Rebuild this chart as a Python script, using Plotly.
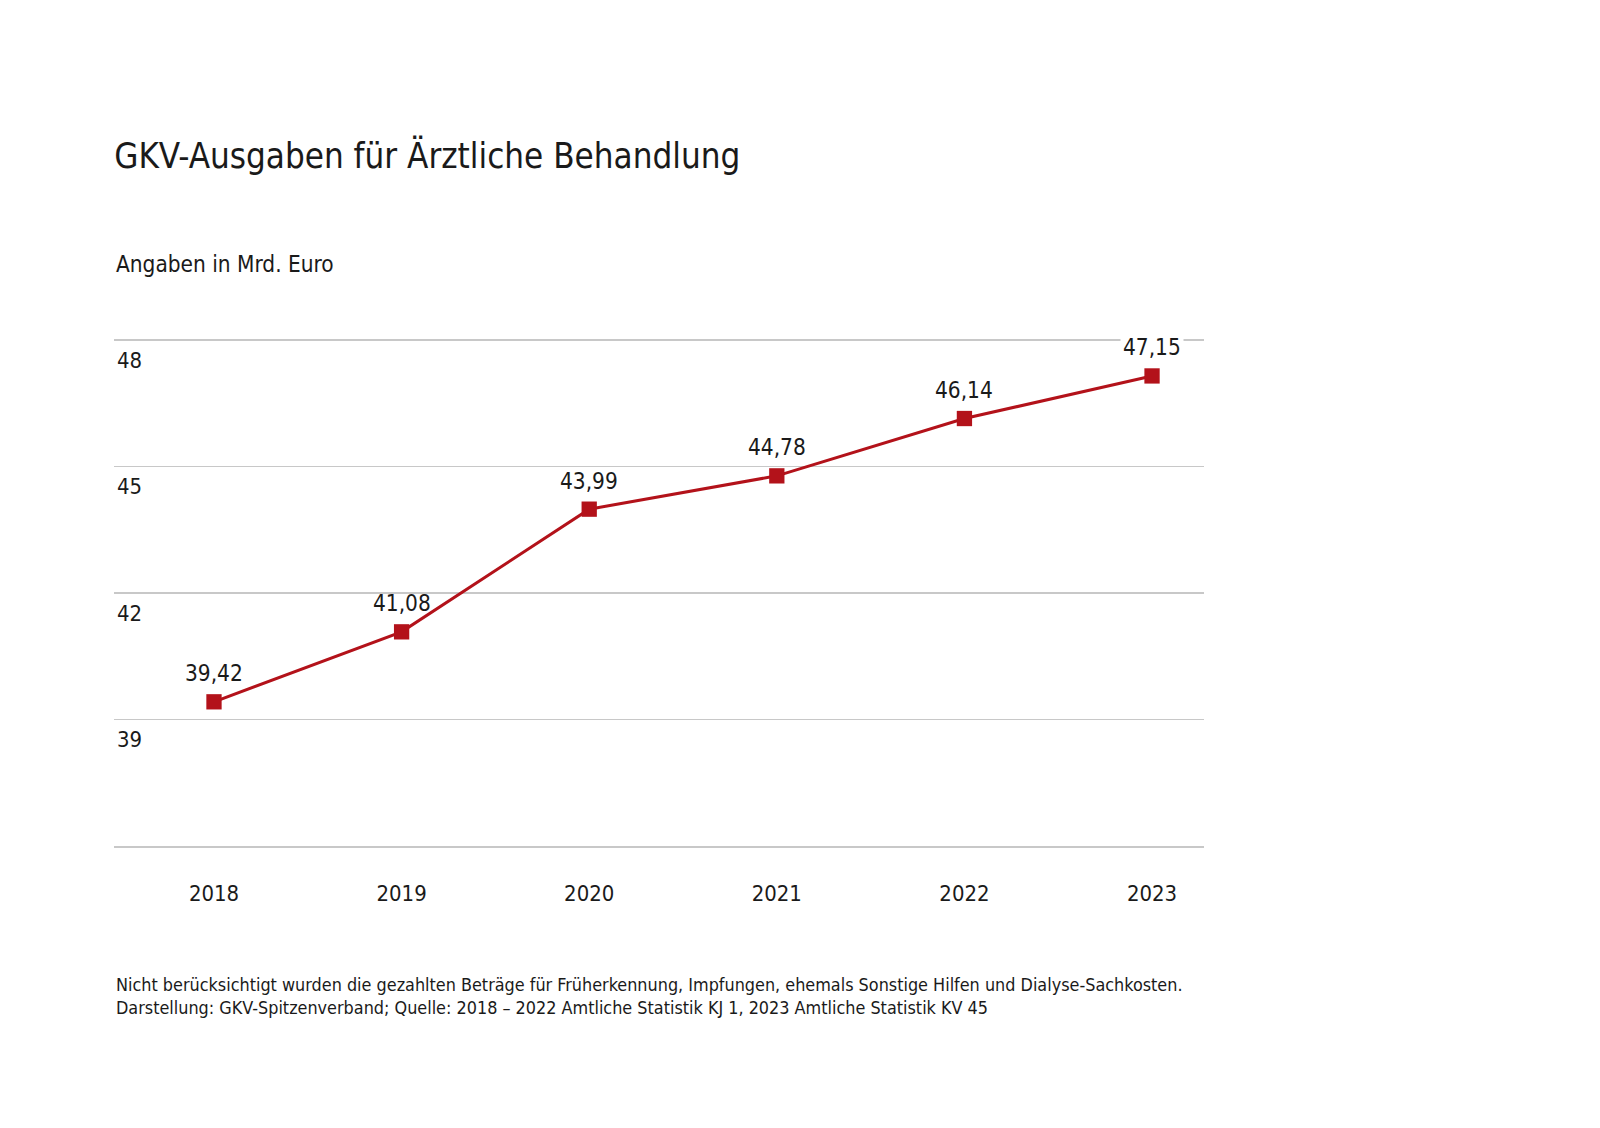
import plotly.graph_objects as go

years = [2018, 2019, 2020, 2021, 2022, 2023]
values = [39.42, 41.08, 43.99, 44.78, 46.14, 47.15]
labels = ["39,42", "41,08", "43,99", "44,78", "46,14", "47,15"]
y_ticks = [39, 42, 45, 48]
y_tick_text = ["39", "42", "45", "48"]

FONT = "DejaVu Sans Condensed, DejaVu Sans, sans-serif"
RED = "#b3121a"
TXT = "#1a1a1a"

# the captured page is about 2% larger than 1600x1128, so scale everything
K = 1.02
W, HT = round(1600 * K), round(1128 * K)


def s(v):
    return v * K


# plot area in reference pixels
L, R, T, B = 112, 1180, 331, 829
H = B - T
Y0, Y1 = 36, 48.05
LABEL_SHIFT = 28  # px above marker


def py(px):
    return (B - px) / H


fig = go.Figure()
fig.add_trace(go.Scatter(
    x=years, y=values, mode="lines+markers",
    line=dict(color=RED, width=s(3)),
    marker=dict(symbol="square", size=s(15), color=RED),
    hoverinfo="skip", showlegend=False,
))

units_per_px = (Y1 - Y0) / H
annotations = []
for x, v, t in zip(years, values, labels):
    centre = v + LABEL_SHIFT * units_per_px
    near_grid = min(abs(centre - g) for g in y_ticks) < 8 * units_per_px
    annotations.append(dict(
        x=x, y=v, xref="x", yref="y", text=t, showarrow=False,
        yshift=s(LABEL_SHIFT), bgcolor="white" if near_grid else "rgba(0,0,0,0)",
        borderpad=2,
        font=dict(family=FONT, size=s(22), color=TXT),
    ))

annotations += [
    dict(x=0, y=py(258), xref="paper", yref="paper",
         xanchor="left", yanchor="middle", showarrow=False,
         text="Angaben in Mrd. Euro",
         font=dict(family=FONT, size=s(22), color=TXT)),
    dict(x=0, y=py(976), xref="paper", yref="paper",
         xanchor="left", yanchor="middle", showarrow=False, align="left",
         text="Nicht berücksichtigt wurden die gezahlten Beträge für Früherkennung, Impfungen, ehemals Sonstige Hilfen und Dialyse-Sachkosten.<br>"
              "Darstellung: GKV-Spitzenverband; Quelle: 2018 – 2022 Amtliche Statistik KJ 1, 2023 Amtliche Statistik KV 45",
         font=dict(family=FONT, size=s(17.5), color=TXT)),
]

fig.update_layout(
    width=W, height=HT,
    margin=dict(l=s(L), r=s(1600 - R), t=s(T), b=s(1128 - B)),
    paper_bgcolor="white", plot_bgcolor="white",
    font=dict(family=FONT, color=TXT),
    title=dict(
        text="GKV-Ausgaben für Ärztliche Behandlung",
        x=L / 1600, xanchor="left", xref="container",
        y=1 - 153 / 1128, yanchor="middle", yref="container",
        font=dict(family=FONT, size=s(34), color=TXT),
    ),
    xaxis=dict(
        range=[2017.467, 2023.277],
        tickvals=years, ticktext=[str(y) for y in years],
        showgrid=False, zeroline=False,
        showline=True, linecolor="#c8c8c8", linewidth=s(2),
        ticks="", ticklabelstandoff=round(s(26)),
        tickfont=dict(family=FONT, size=s(21.5), color=TXT),
        fixedrange=True,
    ),
    yaxis=dict(
        range=[Y0, Y1],
        tickvals=y_ticks, ticktext=y_tick_text,
        showgrid=True, gridcolor="#c8c8c8", gridwidth=s(1.5),
        zeroline=False, showline=False, ticks="",
        ticklabelposition="inside", ticklabelshift=round(s(20)),
        tickfont=dict(family=FONT, size=s(21.5), color=TXT),
        fixedrange=True,
    ),
    annotations=annotations,
)

fig.write_html(
    "out.html",
    config={"displayModeBar": False, "staticPlot": True},
    post_script="document.body.style.margin='0';document.body.style.padding='0';document.documentElement.style.overflow='hidden';",
)
